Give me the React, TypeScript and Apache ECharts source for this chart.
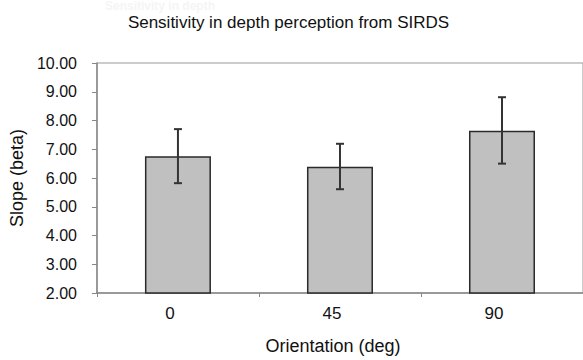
import React, { useEffect, useRef } from "react";
import * as echarts from "echarts";

const categories = ["0", "45", "90"];
const slopeValues = [6.76, 6.39, 7.64];
const errorLow = [5.82, 5.61, 6.5];
const errorHigh = [7.7, 7.19, 8.81];
const yTickMin = 2;
const yTickMax = 10;
const yTickStep = 1;

export default function App() {
  const ref = useRef<HTMLDivElement>(null);

  useEffect(() => {
    if (!ref.current) return;
    const chart = echarts.init(ref.current, null, { renderer: "svg" });
    const font = "'Liberation Sans', Arial, sans-serif";
    const errData = categories.map((_, i) => [i, errorLow[i], errorHigh[i]]);

    chart.setOption({
      animation: false,
      backgroundColor: "#ffffff",
      textStyle: { fontFamily: font },
      graphic: [
        {
          type: "text",
          x: 105,
          y: 0,
          style: {
            text: "Sensitivity in depth",
            font: "bold 12px " + font,
            fill: "#f5f5f5",
            textVerticalAlign: "top",
          },
          silent: true,
        },
        {
          type: "text",
          x: 288.5,
          y: 14,
          style: {
            text: "Sensitivity in depth perception from SIRDS",
            font: "17px " + font,
            fill: "#111111",
            textAlign: "center",
            textVerticalAlign: "top",
          },
          silent: true,
        },
      ],
      grid: {
        left: 95,
        top: 63,
        width: 490,
        height: 235,
        show: true,
        borderColor: "#999999",
        borderWidth: 1,
        backgroundColor: "transparent",
        containLabel: false,
      },
      xAxis: {
        type: "category",
        data: categories,
        boundaryGap: true,
        axisLine: { show: true, lineStyle: { color: "#888888", width: 1.5 } },
        axisTick: { show: true, length: 4, lineStyle: { color: "#888888" } },
        axisLabel: {
          color: "#111111",
          fontSize: 17,
          margin: 12,
          padding: [0, 16, 0, 0],
          fontFamily: font,
        },
        name: "Orientation (deg)",
        nameLocation: "middle",
        nameGap: 44,
        nameTextStyle: {
          color: "#111111",
          fontSize: 18,
          padding: [0, 14, 0, 0],
          fontFamily: font,
        },
      },
      yAxis: {
        type: "value",
        min: yTickMin,
        max: yTickMax,
        interval: yTickStep,
        axisLine: { show: true, lineStyle: { color: "#888888", width: 1.5 } },
        axisTick: { show: true, inside: false, length: 5, lineStyle: { color: "#888888" } },
        splitLine: { show: false },
        axisLabel: {
          color: "#111111",
          fontSize: 16,
          margin: 20,
          fontFamily: font,
          formatter: (v: number) => v.toFixed(2),
        },
        name: "Slope (beta)",
        nameLocation: "middle",
        nameGap: 65,
        nameTextStyle: { color: "#111111", fontSize: 18, fontFamily: font },
      },
      series: [
        {
          type: "bar",
          data: slopeValues,
          barWidth: 66,
          itemStyle: {
            color: "#c0c0c0",
            borderColor: "#2a2a2a",
            borderWidth: 1.5,
          },
        },
        {
          type: "custom",
          data: errData,
          z: 10,
          renderItem: (params: any, api: any) => {
            const idx = api.value(0);
            const lowPt = api.coord([idx, api.value(1)]);
            const highPt = api.coord([idx, api.value(2)]);
            const x = lowPt[0];
            const cap = 4;
            const style = { stroke: "#333333", lineWidth: 2 };
            return {
              type: "group",
              children: [
                { type: "line", shape: { x1: x, y1: lowPt[1], x2: x, y2: highPt[1] }, style },
                { type: "line", shape: { x1: x - cap, y1: highPt[1], x2: x + cap, y2: highPt[1] }, style },
                { type: "line", shape: { x1: x - cap, y1: lowPt[1], x2: x + cap, y2: lowPt[1] }, style },
              ],
            };
          },
        },
      ],
    });

    return () => chart.dispose();
  }, []);

  return (
    <div
      ref={ref}
      style={{ position: "absolute", left: 0, top: 0, width: 583, height: 360 }}
    />
  );
}
